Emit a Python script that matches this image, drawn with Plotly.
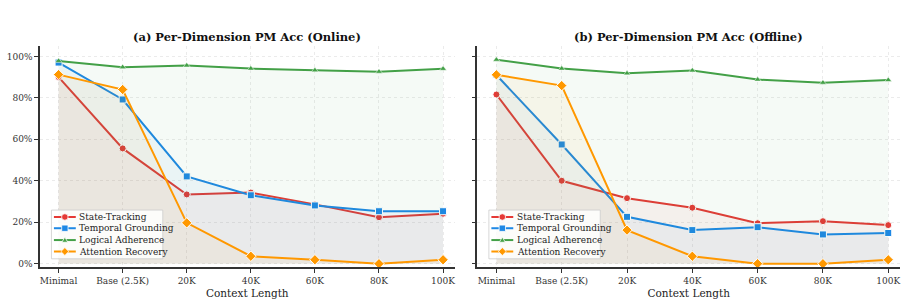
import plotly.graph_objects as go
from plotly.subplots import make_subplots

categories = ["Minimal", "Base (2.5K)", "20K", "40K", "60K", "80K", "100K"]
series_names = ["State-Tracking", "Temporal Grounding", "Logical Adherence", "Attention Recovery"]

online_state = [90.0, 55.6, 33.4, 34.3, 28.6, 22.4, 24.1]
online_temporal = [97.0, 79.2, 42.1, 33.0, 28.1, 25.3, 25.3]
online_logical = [97.8, 94.8, 95.6, 94.1, 93.3, 92.6, 94.0]
online_attention = [91.2, 84.0, 19.7, 3.6, 1.9, 0.0, 1.9]

offline_state = [81.6, 40.0, 31.6, 27.0, 19.5, 20.5, 18.6]
offline_temporal = [91.0, 57.5, 22.6, 16.2, 17.6, 14.1, 14.8]
offline_logical = [98.4, 94.1, 91.8, 93.2, 88.8, 87.3, 88.6]
offline_attention = [91.1, 85.9, 16.2, 3.6, 0.0, 0.0, 1.9]

panel_titles = ["(a) Per-Dimension PM Acc (Online)", "(b) Per-Dimension PM Acc (Offline)"]
y_ticks = [0, 20, 40, 60, 80, 100]
y_tick_labels = ["0%", "20%", "40%", "60%", "80%", "100%"]

colors = ["#e53935", "#1e88e5", "#43a047", "#ff9800"]
fills = ["rgba(229,57,53,0.05)", "rgba(30,136,229,0.05)", "rgba(67,160,71,0.05)", "rgba(255,152,0,0.05)"]
symbols = ["circle", "square", "triangle-up", "diamond"]
sizes = [7, 7, 6, 8]

FONT = "DejaVu Serif"
W, H = 908, 305
ML, MR, MT, MB = 36, 7, 46, 35
PW = W - ML - MR
PH = H - MT - MB
DOM1 = [0.0, (453 - ML) / PW]
DOM2 = [(476 - ML) / PW, 1.0]


def px(xp):
    return (xp - ML) / PW


def py(yp):
    return (H - MB - yp) / PH


fig = make_subplots(rows=1, cols=2, horizontal_spacing=0.02)

panels = [
    [online_state, online_temporal, online_logical, online_attention],
    [offline_state, offline_temporal, offline_logical, offline_attention],
]

for p, data in enumerate(panels):
    for i, vals in enumerate(data):
        fig.add_trace(go.Scatter(
            x=categories, y=vals, name=series_names[i],
            mode="lines+markers",
            line=dict(color=colors[i], width=2),
            marker=dict(symbol=symbols[i], size=sizes[i], color=colors[i],
                        line=dict(color="white", width=1 if i != 2 else 0.5)),
            fill="tozeroy", fillcolor=fills[i],
            showlegend=False,
        ), row=1, col=p + 1)

axis_common = dict(
    showgrid=True, gridcolor="#ebebeb", griddash="dot", gridwidth=1,
    showline=True, linecolor="#333333", linewidth=1.5,
    ticks="outside", ticklen=4, tickwidth=1, tickcolor="#333333",
    tickfont=dict(family=FONT, size=9, color="#333333"),
    zeroline=False, mirror=False,
)

fig.update_xaxes(**axis_common, type="category", range=[-0.29, 6.18],
                 title=dict(text="Context Length", font=dict(family=FONT, size=10.5, color="#222"), standoff=5))
fig.update_yaxes(**axis_common, range=[-1.6, 105], tickvals=y_ticks, ticktext=y_tick_labels)
fig.update_yaxes(showticklabels=False, row=1, col=2)

fig.update_layout(
    width=W, height=H,
    margin=dict(l=ML, r=MR, t=MT, b=MB),
    plot_bgcolor="white", paper_bgcolor="white",
    xaxis=dict(domain=DOM1),
    xaxis2=dict(domain=DOM2),
    showlegend=False,
)

for p in range(2):
    dom = DOM1 if p == 0 else DOM2
    fig.add_annotation(
        text=f"<b>{panel_titles[p]}</b>", x=(dom[0] + dom[1]) / 2, y=1.0,
        xref="paper", yref="paper", xanchor="center", yanchor="bottom", yshift=0,
        showarrow=False, font=dict(family=FONT, size=11.5, color="#111"),
    )

# manual compact legends (one per panel)
for p in range(2):
    spine = 36 if p == 0 else 476
    bl = spine + 11.5
    bt = 212.3
    bw, bh = 112, 49.4
    fig.add_shape(type="rect", xref="paper", yref="paper",
                  x0=px(bl), x1=px(bl + bw), y0=py(bt + bh), y1=py(bt),
                  fillcolor="rgba(255,255,255,0.85)", line=dict(color="#cccccc", width=0.8),
                  layer="above")
    rows = [7.0, 18.4, 30.4, 42.0]
    for i, name in enumerate(series_names):
        cy = bt + rows[i]
        x0, x1 = bl + 2.5, bl + 24.5
        cx = bl + 13.5
        fig.add_shape(type="line", xref="paper", yref="paper",
                      x0=px(x0), x1=px(x1), y0=py(cy), y1=py(cy),
                      line=dict(color=colors[i], width=2), layer="above")
        mk = dict(xref="paper", yref="paper", fillcolor=colors[i],
                  line=dict(color="white", width=0.8), layer="above")
        if symbols[i] == "circle":
            r = 3.3
            fig.add_shape(type="circle", x0=px(cx - r), x1=px(cx + r), y0=py(cy + r), y1=py(cy - r), **mk)
        elif symbols[i] == "square":
            r = 3.2
            fig.add_shape(type="rect", x0=px(cx - r), x1=px(cx + r), y0=py(cy + r), y1=py(cy - r), **mk)
        elif symbols[i] == "triangle-up":
            pts = [(cx, cy - 3.0), (cx - 3.0, cy + 2.2), (cx + 3.0, cy + 2.2)]
            path = "M" + " L".join(f"{px(a):.5f},{py(b):.5f}" for a, b in pts) + " Z"
            fig.add_shape(type="path", path=path, **mk)
        else:
            r = 4.0
            pts = [(cx, cy - r), (cx + r, cy), (cx, cy + r), (cx - r, cy)]
            path = "M" + " L".join(f"{px(a):.5f},{py(b):.5f}" for a, b in pts) + " Z"
            fig.add_shape(type="path", path=path, **mk)
        fig.add_annotation(text=name, xref="paper", yref="paper",
                           x=px(bl + 26.0), y=py(cy), xanchor="left", yanchor="middle",
                           showarrow=False, font=dict(family=FONT, size=9, color="#222"))

fig.write_html("out.html")
